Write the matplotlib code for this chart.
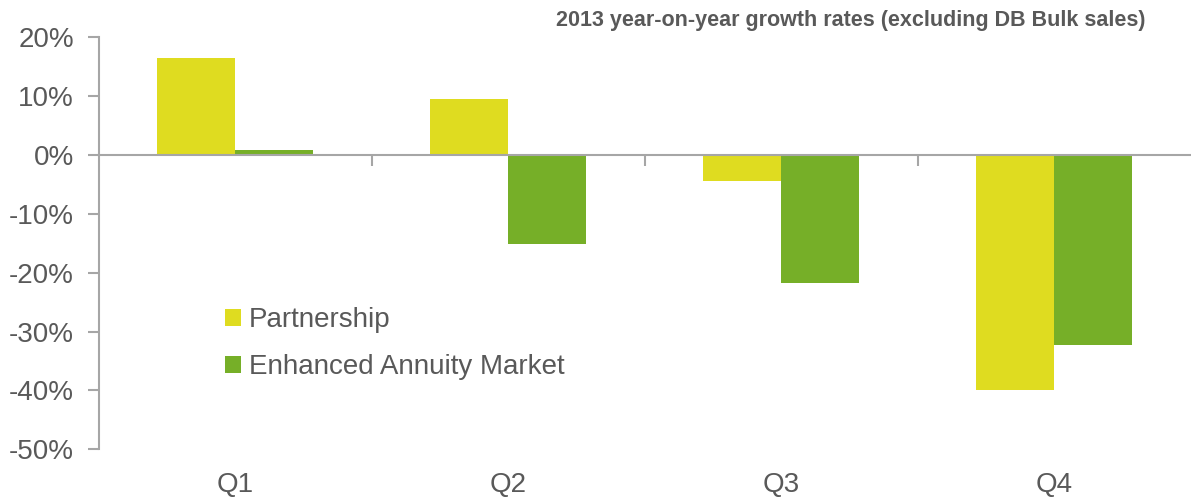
import numpy as np
import matplotlib
matplotlib.use("Agg")
import matplotlib.pyplot as plt
from matplotlib.ticker import FuncFormatter

plt.rcParams['font.family'] = ['Liberation Sans', 'DejaVu Sans']

quarters = ['Q1', 'Q2', 'Q3', 'Q4']
partnership = [16.5, 9.5, -4.4, -40.0]
enhanced_annuity = [0.9, -15.1, -21.7, -32.3]
series_names = ['Partnership', 'Enhanced Annuity Market']

yellow = '#DFDC20'
green = '#76AF28'
grey_text = '#595959'
grey_axis = '#A6A6A6'

fig = plt.figure(figsize=(11.91, 4.97), dpi=100)
ax = fig.add_axes([0.0831, 0.096, 0.9169, 0.8288])

x = np.arange(len(quarters))
w = 0.2857
ax.bar(x - w / 2, partnership, w, color=yellow, label=series_names[0])
ax.bar(x + w / 2, enhanced_annuity, w, color=green, label=series_names[1])

ax.set_xlim(-0.5, len(quarters) - 0.5)
ax.set_ylim(-50, 20)
ax.set_yticks(np.arange(-50, 21, 10))
ax.yaxis.set_major_formatter(FuncFormatter(lambda v, p: '%d%%' % v))

# horizontal axis sits on zero, category names at the bottom
for s in ['top', 'right']:
    ax.spines[s].set_visible(False)
ax.spines['bottom'].set_position(('data', 0))
for s in ['left', 'bottom']:
    ax.spines[s].set_color(grey_axis)
    ax.spines[s].set_linewidth(1.5)

ax.set_xticks(np.arange(0.5, len(quarters) - 1, 1.0))
ax.set_xticklabels([])
ax.tick_params(axis='x', direction='out', length=8, width=1.5, color=grey_axis)
ax.tick_params(axis='y', direction='out', length=8, width=1.5, color=grey_axis,
               labelsize=20, labelcolor=grey_text, pad=10)

for i, q in enumerate(quarters):
    ax.annotate(q, xy=(i, -50), xytext=(0, -16), textcoords='offset points',
                ha='center', va='top', fontsize=20, color=grey_text)

leg = ax.legend(loc='upper left', bbox_to_anchor=(0.1055, 0.372), frameon=False,
                fontsize=20, handlelength=0.55, handleheight=0.55,
                handletextpad=0.3, labelspacing=0.75, borderaxespad=0)
for t in leg.get_texts():
    t.set_color(grey_text)

fig.text(0.962, 0.958, '2013 year-on-year growth rates (excluding DB Bulk sales)',
         ha='right', va='center', fontsize=15.5, fontweight='bold', color=grey_text)

fig.savefig('out.png', dpi=100)
